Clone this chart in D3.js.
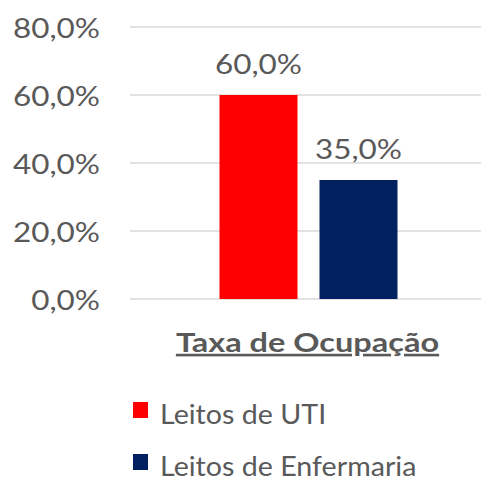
<!DOCTYPE html>
<html>
<head>
<meta charset="utf-8">
<script src="https://d3js.org/d3.v7.min.js"></script>
<style>
  body { margin: 0; background: #fff; }
  text { font-family: Lato, sans-serif; fill: #595959; }
</style>
</head>
<body>
<div id="chart"></div>
<script>
  let categories = ["Taxa de Ocupação"];
  let seriesNames = ["Leitos de UTI", "Leitos de Enfermaria"];
  let seriesValues = [0.60, 0.35];
  let seriesColors = ["#ff0000", "#002060"];
  let yTicks = [0, 0.2, 0.4, 0.6, 0.8];

  let w = 481, h = 485;
  let fmt = function(v) { return d3.format(".1f")(v * 100).replace(".", ",") + "%"; };

  let svg = d3.select("#chart").append("svg")
      .attr("width", w).attr("height", h);

  let yScale = d3.scaleLinear().domain([0, 0.8]).range([299, 27]);
  let xScale = d3.scaleBand().domain(categories).range([130, 487]);
  let inner = d3.scaleBand().domain(seriesNames)
      .range([0, xScale.bandwidth()]).paddingInner(0.22).paddingOuter(0.895);

  // gridlines
  svg.append("g").selectAll("line").data(yTicks).enter().append("line")
      .attr("x1", 130).attr("x2", w)
      .attr("y1", d => yScale(d)).attr("y2", d => yScale(d))
      .attr("stroke", "#d9d9d9").attr("stroke-width", 1.5);

  // y axis labels (text a bit wider than Lato, like the original)
  let yAxis = d3.axisLeft(yScale).tickValues(yTicks).tickFormat(fmt).tickSize(0).tickPadding(0);
  let ya = svg.append("g").attr("transform", "translate(100,2)").call(yAxis);
  ya.select(".domain").remove();
  ya.selectAll("text").style("font-size", "26px").style("fill", "#595959")
      .style("font-family", "Lato, sans-serif")
      .attr("transform", "scale(1.21,1)");

  // bars
  let g = svg.append("g").attr("transform", "translate(" + xScale(categories[0]) + ",0)");
  g.selectAll("rect").data(seriesValues).enter().append("rect")
      .attr("x", (d, i) => inner(seriesNames[i]))
      .attr("width", inner.bandwidth())
      .attr("y", d => yScale(d))
      .attr("height", d => yScale(0) - yScale(d))
      .attr("fill", (d, i) => seriesColors[i]);

  g.selectAll("text.lbl").data(seriesValues).enter().append("text")
      .attr("class", "lbl")
      .attr("transform", (d, i) => "translate(" + (inner(seriesNames[i]) + inner.bandwidth() / 2) + "," + (yScale(d) - 21) + ") scale(1.21,1)")
      .attr("text-anchor", "middle")
      .style("font-size", "26px")
      .text(fmt);

  // category label
  svg.append("text")
      .attr("transform", "translate(" + (xScale(categories[0]) + xScale.bandwidth() / 2 - 1) + ",352) scale(1.25,1)")
      .attr("text-anchor", "middle")
      .style("font-size", "26px").style("font-weight", "bold")
      .style("text-decoration", "underline")
      .text(categories[0]);

  // legend
  let leg = svg.append("g").selectAll("g").data(seriesNames).enter().append("g")
      .attr("transform", (d, i) => "translate(133," + (402 + i * 52) + ")");
  leg.append("rect").attr("width", 15).attr("height", 16)
      .attr("fill", (d, i) => seriesColors[i]);
  leg.append("text").attr("transform", "translate(27,22) scale(1.06,1)")
      .style("font-size", "27px").text(d => d);
</script>
</body>
</html>
